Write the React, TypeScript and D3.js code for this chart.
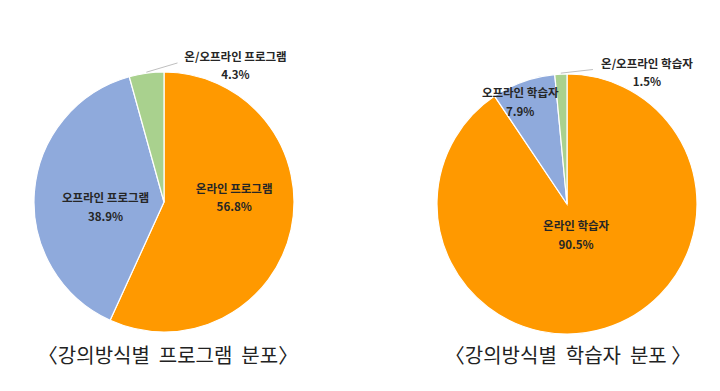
import React, { useEffect, useRef } from "react";
import * as d3 from "d3";

const programLabels = ["온라인 프로그램", "오프라인 프로그램", "온/오프라인 프로그램"];
const programValues = [56.8, 38.9, 4.3];

const learnerLabels = ["온라인 학습자", "오프라인 학습자", "온/오프라인 학습자"];
const learnerValues = [90.5, 7.9, 1.5];

const colors = ["#FF9900", "#8FAADC", "#A9D18E"];
const titles = ["〈강의방식별  프로그램  분포〉", "〈강의방식별  학습자  분포 〉"];

const W = 720;
const H = 391;
const R = 130;

// label positions in units of radius from center (dx, dy), picked by eye
const programLabelPos = [
  [0.54, -0.07],
  [-0.45, 0.0],
  [0.55, -1.085],
];
const learnerLabelPos = [
  [0.07, 0.2],
  [-0.36, -0.82],
  [0.615, -1.05],
];

const App = () => {
  const ref = useRef<SVGSVGElement | null>(null);

  useEffect(() => {
    const svg = d3.select(ref.current);
    svg.selectAll("*").remove();

    const charts = [
      { cx: 164, cy: 202, labels: programLabels, values: programValues, pos: programLabelPos, outside: [2], lead: 58 },
      { cx: 567, cy: 204, labels: learnerLabels, values: learnerValues, pos: learnerLabelPos, outside: [2], lead: 54 },
    ];

    const pie = d3.pie<number>().sort(null).value((d) => d);
    const arc = d3.arc<d3.PieArcDatum<number>>().innerRadius(0).outerRadius(R);

    charts.forEach((c, ci) => {
      const g = svg.append("g").attr("transform", `translate(${c.cx},${c.cy})`);
      const arcs = pie(c.values);

      g.selectAll("path")
        .data(arcs)
        .enter()
        .append("path")
        .attr("d", arc)
        .attr("fill", (d, i) => colors[i])
        .attr("stroke", "#fff")
        .attr("stroke-width", 1.2);

      // leader lines for outside labels
      c.outside.forEach((i) => {
        const a = (arcs[i].startAngle + arcs[i].endAngle) / 2;
        const x0 = Math.sin(a) * (R + 1);
        const y0 = -Math.cos(a) * (R + 1);
        const x1 = c.pos[i][0] * R - c.lead;
        const y1 = c.pos[i][1] * R + 2;
        g.append("line")
          .attr("x1", x0)
          .attr("y1", y0)
          .attr("x2", x1)
          .attr("y2", y1)
          .attr("stroke", "#bfbfbf")
          .attr("stroke-width", 1);
      });

      c.labels.forEach((lab, i) => {
        const t = g
          .append("text")
          .attr("text-anchor", "middle")
          .attr("font-family", "'Noto Sans CJK KR', 'Noto Sans', sans-serif")
          .attr("font-size", 11.5)
          .attr("font-weight", 700)
          .attr("fill", "#262626");
        t.append("tspan")
          .attr("x", c.pos[i][0] * R)
          .attr("y", c.pos[i][1] * R)
          .text(lab);
        t.append("tspan")
          .attr("x", c.pos[i][0] * R)
          .attr("y", c.pos[i][1] * R + 18.5)
          .text(`${c.values[i]}%`);
      });

      svg
        .append("text")
        .attr("x", ci === 0 ? 168 : 568)
        .attr("y", 363)
        .attr("text-anchor", "middle")
        .attr("font-family", "'Noto Sans CJK KR', sans-serif")
        .attr("font-size", 20)
        .attr("fill", "#222")
        .style("white-space", "pre")
        .text(titles[ci]);
    });
  }, []);

  return (
    <svg
      ref={ref}
      width={W}
      height={H}
      style={{ position: "absolute", left: 0, top: 0, background: "#fff" }}
    />
  );
};

export default App;
